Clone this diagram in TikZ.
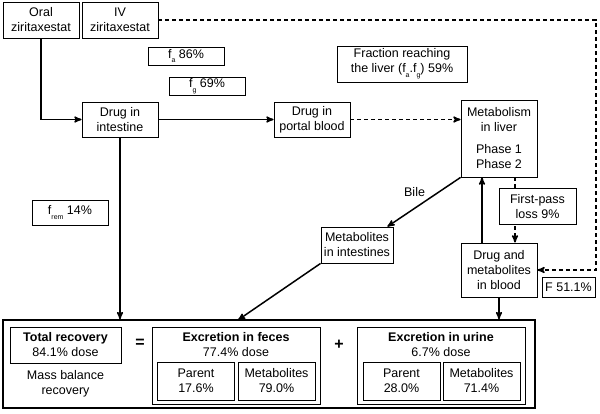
\documentclass[tikz,border=0pt]{standalone}
\usepackage{fontspec}
\setmainfont{Liberation Sans}
\usetikzlibrary{arrows}
\usetikzlibrary{calc}
\usetikzlibrary{positioning}

\newcommand{\lowsub}[1]{\raisebox{-0.7ex}{\fontsize{7}{7}\selectfont #1}}

\tikzset{
  box/.style={draw,line width=0.8pt,fill=white,align=center,inner sep=1pt,
    minimum width=76pt,minimum height=36pt},
  flag/.style={box,minimum height=18pt},
  sub/.style={box,minimum width=77pt,minimum height=38pt},
  group/.style={draw,line width=0.8pt,minimum width=168pt,minimum height=77pt},
  link/.style={draw,line width=1.5pt,->,>=stealth'},
  dlink/.style={link,dash pattern=on 4pt off 3pt}
}

\begin{document}
\begin{tikzpicture}[x=1pt,y=-1pt,font=\fontsize{12.5}{15}\selectfont]
  \useasboundingbox (0,0) rectangle (600,413);

  % top row
  \node [box] (oral) at (41,20) {Oral\\ziritaxestat};
  \node [box] (iv) at (120,20) {IV\\ziritaxestat};
  \node [flag] (fa) at (186,56) {f\lowsub{a} 86\%};
  \node [flag] (fg) at (207,86) {f\lowsub{g} 69\%};
  \node [box,minimum width=130pt] (frac) at (402,64)
    {Fraction reaching\\the liver (f\lowsub{a}.f\lowsub{g}) 59\%};

  \node [box,minimum height=35pt] (intest) at (120,119.5) {Drug in\\intestine};
  \node [box,minimum height=35pt] (portal) at (312,119.5) {Drug in\\portal blood};
  \node [box,minimum height=77pt] (liver) at (499,138.5)
    {Metabolism\\in liver\\[7pt]Phase 1\\Phase 2};

  % middle
  \node [box,minimum height=25pt] (frem) at (70,212.5) {f\lowsub{rem} 14\%};
  \node [box,minimum width=72pt] (metint) at (357,245) {Metabolites\\in intestines};
  \node [box,minimum height=54pt] (blood) at (499,270) {Drug and\\metabolites\\in blood};
  \node [box,minimum width=53pt,minimum height=20pt] (F) at (568.5,287) {F 51.1\%};

  % recovery panel
  \node [draw,line width=1.5pt,minimum width=532pt,minimum height=88pt] (outer) at (269,364) {};
  \node [box,minimum width=111pt] (total) at (65.5,345) {\textbf{Total recovery}\\84.1\% dose};
  \node [align=center] (mass) at (65.5,384) {Mass balance\\recovery};
  \node [font=\fontsize{16}{16}\bfseries] (eq) at (140,343) {=};
  \node [group] (feces) at (236,365.5) {};
  \node [align=center] (fectitle) at (236,345) {\textbf{Excretion in feces}\\77.4\% dose};
  \node [sub] (fpar) at (196,381) {Parent\\17.6\%};
  \node [sub] (fmet) at (276.5,381) {Metabolites\\79.0\%};
  \node [font=\fontsize{16}{16}\bfseries] (plus) at (339,345) {+};
  \node [group] (urine) at (441,365.5) {};
  \node [align=center] (urititle) at (441,345) {\textbf{Excretion in urine}\\6.7\% dose};
  \node [sub] (upar) at (401.5,381) {Parent\\28.0\%};
  \node [sub] (umet) at (481.5,381) {Metabolites\\71.4\%};

  \coordinate (ivturn) at (596,20);
  \coordinate (fecin) at (238,320);

  % first-pass loss sits over the dashed line
  \draw [dlink] ($(liver.south)+(16,0)$) -- ($(blood.north)+(16,0)$);
  \node [box,minimum width=77pt] (fpl) at (537.5,206.5) {First-pass\\loss 9\%};

  \draw [link] (oral) |- (intest);
  \draw [link] (intest) -- (portal);
  \draw [link] (intest) -- (intest |- outer.north);
  \draw [link] (liver.south west) -- node [above left=-2pt,pos=0.45] {Bile}
    ($(metint.north east)+(-6,0)$);
  \draw [link] (metint.south west) -- (fecin);
  \draw [link] ($(blood.north)+(-17,0)$) -- ($(liver.south)+(-17,0)$);
  \draw [link] (blood) -- (blood |- outer.north);

  \draw [dlink] (portal) -- (portal -| liver.west);
  \draw [dlink] (iv) -- (ivturn) |- (blood);
\end{tikzpicture}
\end{document}
